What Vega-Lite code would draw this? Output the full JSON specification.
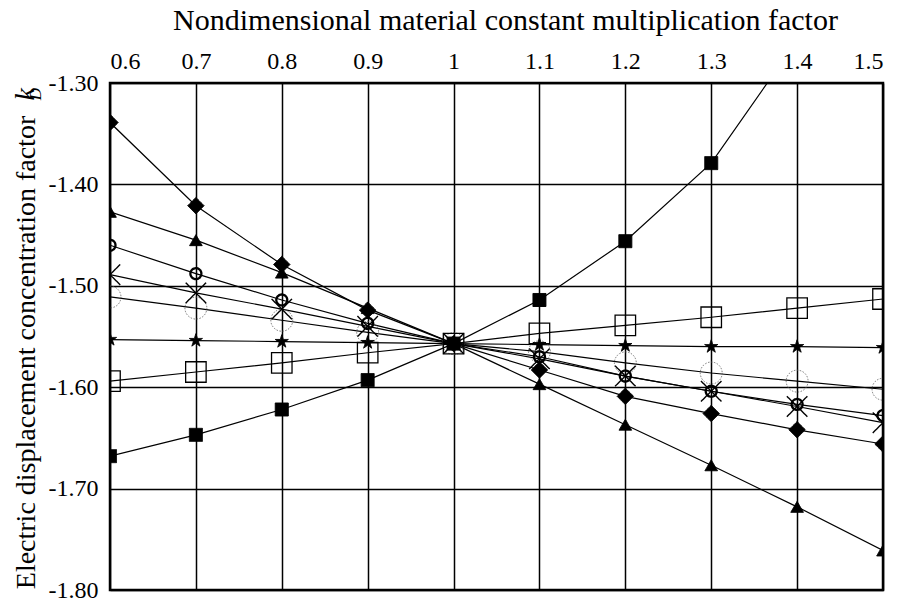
{
  "$schema": "https://vega.github.io/schema/vega-lite/v6.json",
  "width": 773,
  "height": 507,
  "autosize": {"type": "none"},
  "padding": {"left": 110, "top": 83, "right": 16, "bottom": 13},
  "background": "white",
  "config": {
    "font": "Liberation Serif, DejaVu Serif, serif",
    "view": {"stroke": "black", "strokeWidth": 2.5},
    "axis": {
      "domain": false,
      "ticks": false,
      "grid": true,
      "gridColor": "black",
      "gridWidth": 1.5,
      "gridOpacity": 1,
      "labelColor": "black",
      "labelFontSize": 24,
      "labelFont": "Liberation Serif, DejaVu Serif, serif",
      "titleColor": "black",
      "titleFontSize": 28,
      "titleFontWeight": "normal",
      "titleFont": "Liberation Serif, DejaVu Serif, serif"
    }
  },
  "title": {
    "text": "k",
    "subtitle": "\u2003D",
    "orient": "left",
    "anchor": "end",
    "frame": "group",
    "font": "Liberation Serif, DejaVu Serif, serif",
    "fontStyle": "italic",
    "fontWeight": "normal",
    "fontSize": 28,
    "color": "black",
    "subtitleFont": "Liberation Serif, DejaVu Serif, serif",
    "subtitleFontStyle": "italic",
    "subtitleFontSize": 17,
    "subtitleColor": "black",
    "subtitlePadding": -12,
    "offset": -32,
    "dx": -5
  },
  "data": {
    "values": [
      {"s": "circ_dot", "x": 0.6, "y": -1.511}, {"s": "circ_dot", "x": 0.7, "y": -1.522}, {"s": "circ_dot", "x": 0.8, "y": -1.534}, {"s": "circ_dot", "x": 0.9, "y": -1.546}, {"s": "circ_dot", "x": 1.0, "y": -1.557}, {"s": "circ_dot", "x": 1.1, "y": -1.565}, {"s": "circ_dot", "x": 1.2, "y": -1.576}, {"s": "circ_dot", "x": 1.3, "y": -1.586}, {"s": "circ_dot", "x": 1.4, "y": -1.594}, {"s": "circ_dot", "x": 1.5, "y": -1.602},
      {"s": "sq_open", "x": 0.6, "y": -1.594}, {"s": "sq_open", "x": 0.7, "y": -1.585}, {"s": "sq_open", "x": 0.8, "y": -1.576}, {"s": "sq_open", "x": 0.9, "y": -1.566}, {"s": "sq_open", "x": 1.0, "y": -1.557}, {"s": "sq_open", "x": 1.1, "y": -1.547}, {"s": "sq_open", "x": 1.2, "y": -1.539}, {"s": "sq_open", "x": 1.3, "y": -1.531}, {"s": "sq_open", "x": 1.4, "y": -1.522}, {"s": "sq_open", "x": 1.5, "y": -1.513},
      {"s": "star", "x": 0.6, "y": -1.553}, {"s": "star", "x": 0.7, "y": -1.554}, {"s": "star", "x": 0.8, "y": -1.555}, {"s": "star", "x": 0.9, "y": -1.556}, {"s": "star", "x": 1.0, "y": -1.557}, {"s": "star", "x": 1.1, "y": -1.558}, {"s": "star", "x": 1.2, "y": -1.559}, {"s": "star", "x": 1.3, "y": -1.560}, {"s": "star", "x": 1.4, "y": -1.560}, {"s": "star", "x": 1.5, "y": -1.561},
      {"s": "cross", "x": 0.6, "y": -1.489}, {"s": "cross", "x": 0.7, "y": -1.507}, {"s": "cross", "x": 0.8, "y": -1.523}, {"s": "cross", "x": 0.9, "y": -1.540}, {"s": "cross", "x": 1.0, "y": -1.557}, {"s": "cross", "x": 1.1, "y": -1.572}, {"s": "cross", "x": 1.2, "y": -1.589}, {"s": "cross", "x": 1.3, "y": -1.604}, {"s": "cross", "x": 1.4, "y": -1.619}, {"s": "cross", "x": 1.5, "y": -1.635},
      {"s": "circ", "x": 0.6, "y": -1.460}, {"s": "circ", "x": 0.7, "y": -1.488}, {"s": "circ", "x": 0.8, "y": -1.514}, {"s": "circ", "x": 0.9, "y": -1.537}, {"s": "circ", "x": 1.0, "y": -1.557}, {"s": "circ", "x": 1.1, "y": -1.570}, {"s": "circ", "x": 1.2, "y": -1.589}, {"s": "circ", "x": 1.3, "y": -1.604}, {"s": "circ", "x": 1.4, "y": -1.617}, {"s": "circ", "x": 1.5, "y": -1.628},
      {"s": "triangle", "x": 0.6, "y": -1.427}, {"s": "triangle", "x": 0.7, "y": -1.455}, {"s": "triangle", "x": 0.8, "y": -1.487}, {"s": "triangle", "x": 0.9, "y": -1.522}, {"s": "triangle", "x": 1.0, "y": -1.557}, {"s": "triangle", "x": 1.1, "y": -1.597}, {"s": "triangle", "x": 1.2, "y": -1.637}, {"s": "triangle", "x": 1.3, "y": -1.677}, {"s": "triangle", "x": 1.4, "y": -1.718}, {"s": "triangle", "x": 1.5, "y": -1.761},
      {"s": "diamond", "x": 0.6, "y": -1.339}, {"s": "diamond", "x": 0.7, "y": -1.421}, {"s": "diamond", "x": 0.8, "y": -1.479}, {"s": "diamond", "x": 0.9, "y": -1.524}, {"s": "diamond", "x": 1.0, "y": -1.557}, {"s": "diamond", "x": 1.1, "y": -1.583}, {"s": "diamond", "x": 1.2, "y": -1.609}, {"s": "diamond", "x": 1.3, "y": -1.626}, {"s": "diamond", "x": 1.4, "y": -1.642}, {"s": "diamond", "x": 1.5, "y": -1.656},
      {"s": "sq_filled", "x": 0.6, "y": -1.668}, {"s": "sq_filled", "x": 0.7, "y": -1.647}, {"s": "sq_filled", "x": 0.8, "y": -1.622}, {"s": "sq_filled", "x": 0.9, "y": -1.593}, {"s": "sq_filled", "x": 1.0, "y": -1.557}, {"s": "sq_filled", "x": 1.1, "y": -1.514}, {"s": "sq_filled", "x": 1.2, "y": -1.456}, {"s": "sq_filled", "x": 1.3, "y": -1.379}, {"s": "sq_filled", "x": 1.4, "y": -1.258}
    ]
  },
  "encoding": {
    "x": {
      "field": "x",
      "type": "quantitative",
      "scale": {"domain": [0.6, 1.5], "nice": false, "zero": false},
      "axis": {
        "orient": "top",
        "values": [0.6, 0.7, 0.8, 0.9, 1.0, 1.1, 1.2, 1.3, 1.4, 1.5],
        "format": "~g",
        "labelPadding": 10,
        "titlePadding": 14,
        "titleFontSize": 30,
        "titleX": 395,
        "title": "Nondimensional material constant multiplication factor"
      }
    },
    "y": {
      "field": "y",
      "type": "quantitative",
      "scale": {"domain": [-1.8, -1.3], "nice": false, "zero": false},
      "axis": {
        "values": [-1.8, -1.7, -1.6, -1.5, -1.4, -1.3],
        "labelExpr": "replace(format(datum.value, '.2f'), '\u2212', '-')",
        "labelPadding": 12,
        "titlePadding": 8,
        "titleY": 269,
        "title": "Electric displacement concentration factor"
      }
    }
  },
  "layer": [
    {
      "mark": {"type": "line", "color": "black", "strokeWidth": 1.2, "clip": true},
      "encoding": {"detail": {"field": "s", "type": "nominal"}}
    },
    {
      "mark": {"type": "point", "clip": true, "opacity": 1, "filled": false},
      "encoding": {
        "shape": {"field": "s", "type": "nominal", "legend": null, "scale": {"domain": ["circ_dot", "sq_open", "star", "cross", "circ", "triangle", "diamond", "sq_filled"], "range": ["circle", "square", "M0,-1L0.223,-0.307L0.951,-0.309L0.361,0.117L0.588,0.809L0,0.38L-0.588,0.809L-0.361,0.117L-0.951,-0.309L-0.223,-0.307Z", "M-1,-1L1,1M-1,1L1,-1", "circle", "triangle-up", "diamond", "square"]}},
        "fill": {"field": "s", "type": "nominal", "legend": null, "scale": {"domain": ["circ_dot", "sq_open", "star", "cross", "circ", "triangle", "diamond", "sq_filled"], "range": ["transparent", "transparent", "black", "transparent", "transparent", "black", "black", "black"]}},
        "stroke": {"field": "s", "type": "nominal", "legend": null, "scale": {"domain": ["circ_dot", "sq_open", "star", "cross", "circ", "triangle", "diamond", "sq_filled"], "range": ["#555555", "black", "black", "black", "black", "black", "black", "black"]}},
        "size": {"field": "s", "type": "nominal", "legend": null, "scale": {"type": "ordinal", "domain": ["circ_dot", "sq_open", "star", "cross", "circ", "triangle", "diamond", "sq_filled"], "range": [480, 420, 190, 420, 120, 160, 270, 170]}},
        "strokeWidth": {"field": "s", "type": "nominal", "legend": null, "scale": {"type": "ordinal", "domain": ["circ_dot", "sq_open", "star", "cross", "circ", "triangle", "diamond", "sq_filled"], "range": [0.8, 1.3, 1, 1.4, 2.3, 1, 1, 1]}},
        "strokeDash": {"field": "s", "type": "nominal", "legend": null, "scale": {"domain": ["circ_dot", "sq_open", "star", "cross", "circ", "triangle", "diamond", "sq_filled"], "range": [[1.5, 1.5], [1, 0], [1, 0], [1, 0], [1, 0], [1, 0], [1, 0], [1, 0]]}}
      }
    }
  ]
}
